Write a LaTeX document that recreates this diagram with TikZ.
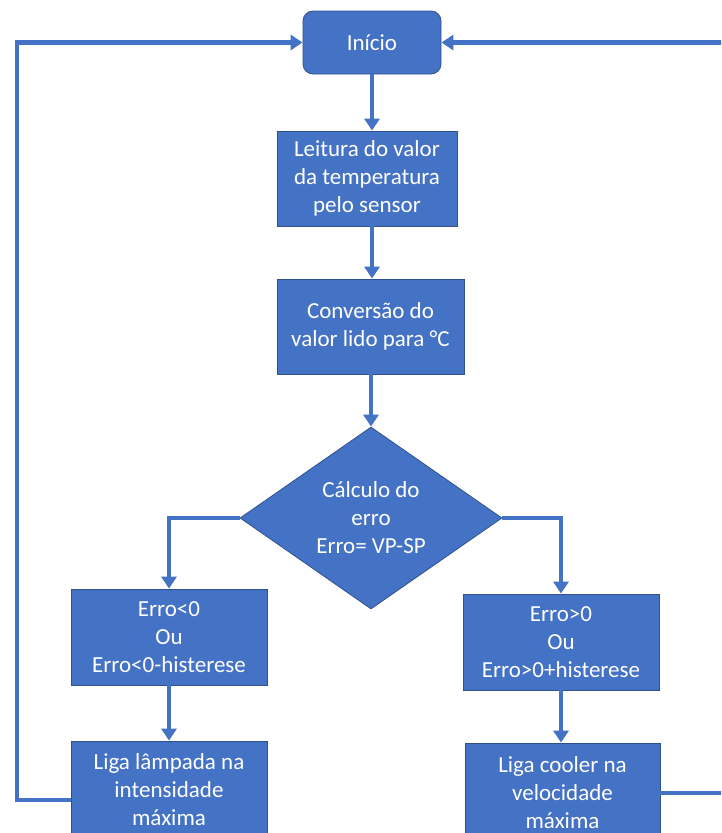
\documentclass[tikz,border=0pt]{standalone}
\usepackage{fontspec}
\setmainfont{Carlito}
\usetikzlibrary{shapes.geometric,arrows.meta}
\definecolor{azul}{HTML}{4472C4}
\definecolor{borda}{HTML}{2F528F}
\begin{document}
\begin{tikzpicture}[x=1pt,y=-1pt,>={Triangle[width=15pt,length=12pt]},
  bloco/.style={draw=borda,line width=.8pt,fill=azul,text=white,align=center,inner sep=0pt,font=\fontsize{23}{28}\selectfont},
  seta/.style={->,draw=azul,line width=4.5pt}]
\useasboundingbox (0,0) rectangle (721,833);
\clip (0,0) rectangle (721,833);

\node[bloco,rounded corners=10pt,minimum width=138pt,minimum height=63pt](ini) at (372,42.5){Início};
\node[bloco,minimum width=180pt,minimum height=95pt](leit) at (367,178.5){Leitura do valor\\da temperatura\\pelo sensor};
\node[bloco,minimum width=187pt,minimum height=95pt](conv) at (370.5,326.5){Conversão do\\valor lido para °C};
\node[bloco,diamond,aspect=1.44,minimum width=262pt,minimum height=182pt](calc) at (371,518){Cálculo do\\erro\\Erro= VP-SP};
\node[bloco,minimum width=196pt,minimum height=96pt](neg) at (169,637){Erro<0\\Ou\\Erro<0-histerese};
\node[bloco,minimum width=196pt,minimum height=96pt](pos) at (561,642){Erro>0\\Ou\\Erro>0+histerese};
\node[bloco,minimum width=196pt,minimum height=98pt](lamp) at (169,790){Liga lâmpada na\\intensidade\\máxima};
\node[bloco,minimum width=195pt,minimum height=100pt](cool) at (562.5,793){Liga cooler na\\velocidade\\máxima};

\coordinate (esq) at (17,0);
\coordinate (dir) at (740,0);

\draw[seta](ini.south)--(ini.south |- leit.north);
\draw[seta](ini.south |- leit.south)--(ini.south |- conv.north);
\draw[seta](calc.north |- conv.south)--(calc.north);
\draw[seta](calc.west)-|(neg.north);
\draw[seta](calc.east)-|(pos.north);
\draw[seta](neg.south)--(neg.south |- lamp.north);
\draw[seta](pos.south)--(pos.south |- cool.north);
\draw[seta]([yshift=-10pt]lamp.west)-|(esq |- ini.west)--(ini.west);
\draw[seta](cool.east)-|(dir |- ini.east)--(ini.east);
\end{tikzpicture}
\end{document}
